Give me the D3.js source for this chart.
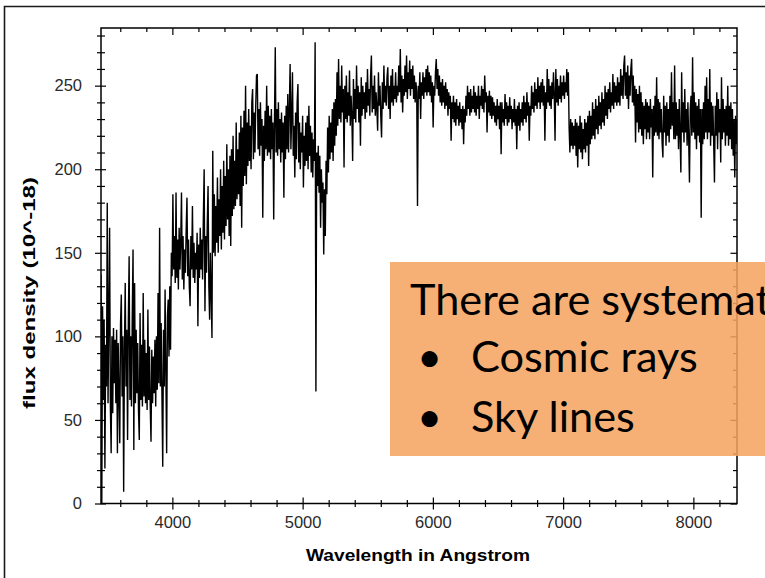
<!DOCTYPE html>
<html>
<head>
<meta charset="utf-8">
<script src="https://cdn.jsdelivr.net/npm/d3@7"></script>
<style>
  html, body { margin: 0; padding: 0; background: #fff; overflow: hidden; }
  svg { display: block; }
</style>
</head>
<body>
<svg id="chart" width="765" height="578"></svg>
<script>
// Spectrum sampling grid (Angstrom)
const waveStart = 3452;
const waveStep = 6;

// Flux density (10^-18), one value per grid step, 20 values (120 A) per row
const flux = [
  137,0,118,62,110,21,95,70,180,60,112,165,58,30,100,54,105,72,98,60,          // 3452
  104,30,96,66,36,108,125,64,100,7,92,132,70,104,38,110,148,62,100,58,         // 3572
  112,152,32,132,60,104,66,96,55,38,114,62,95,58,126,64,98,60,90,56,           // 3692
  116,62,94,58,37,92,60,88,66,98,58,100,68,126,72,165,70,108,64,22,            // 3812
  104,70,128,78,30,112,122,88,130,92,150,136,185,140,160,132,186,135,158,128,  // 3932
  165,140,156,186,134,160,128,152,138,164,183,136,158,130,118,160,140,178,135,156, // 4052
  132,150,140,162,106,155,135,165,140,158,134,172,200,115,160,138,168,190,130,110, // 4172
  150,125,99,211,150,185,148,178,156,195,150,182,160,200,152,190,162,205,158,196,  // 4292
  166,215,170,200,160,208,154,212,172,220,176,205,178,228,182,212,185,222,178,232, // 4412
  165,225,190,235,196,250,191,228,202,236,205,226,200,240,248,206,234,210,238,256, // 4532
  257,212,236,208,240,214,230,171,226,205,235,212,250,208,238,210,232,206,236,212, // 4652
  228,170,230,273,210,236,208,240,212,230,204,234,210,228,183,232,206,238,212,245, // 4772
  210,236,263,212,232,258,208,226,195,234,206,240,251,204,228,200,222,210,232,189, // 4892
  220,202,228,205,232,200,238,208,226,198,222,195,218,205,276,67,210,190,214,186,  // 5012 (cosmic ray)
  208,165,200,180,192,149,188,160,205,185,225,198,232,206,228,210,236,205,240,214, // 5132
  242,220,258,226,266,230,250,228,262,234,248,201,250,230,256,228,246,232,259,226, // 5252
  244,232,205,254,230,248,228,262,236,250,228,246,214,255,232,250,236,246,230,252, // 5372
  234,260,238,248,232,256,268,234,250,236,256,232,246,236,223,258,238,250,232,219, // 5492
  252,236,262,240,250,238,255,261,236,250,230,256,240,260,238,250,242,258,240,250, // 5612
  244,262,246,272,240,256,234,254,244,262,246,268,242,258,248,265,244,260,248,262, // 5732
  242,256,240,252,246,178,250,242,258,230,252,244,258,242,255,246,260,244,262,246, // 5852 (Na D sky line)
  258,244,256,240,252,225,250,244,258,266,248,260,244,256,240,252,238,254,240,250, // 5972
  236,252,238,248,232,246,236,244,217,240,230,244,228,240,226,242,230,238,226,240, // 6092
  228,236,224,238,215,236,228,244,232,250,236,246,232,248,234,244,236,250,234,246, // 6212
  232,244,236,250,230,244,238,250,236,248,234,256,240,246,222,244,234,247,232,244, // 6332
  230,243,232,240,228,238,226,242,230,238,224,240,209,240,228,236,226,245,230,240, // 6452
  226,238,228,243,230,238,224,236,228,242,226,236,212,238,226,240,223,236,228,240, // 6572
  226,244,230,240,228,246,232,240,217,238,232,250,236,246,234,252,238,248,236,255, // 6692
  240,250,236,252,240,254,238,250,217,246,236,260,240,254,238,250,236,252,242,258, // 6812
  244,217,260,240,254,238,250,242,256,240,252,244,256,242,252,246,260,244,258,225, // 6932
  210,230,214,228,212,226,214,230,208,228,201,226,212,232,210,228,206,224,212,230, // 7052
  210,228,214,232,202,235,215,232,218,240,220,236,218,242,224,238,221,244,226,240, // 7172
  224,246,228,242,226,250,232,246,230,248,236,252,234,246,238,257,236,252,240,250, // 7292
  238,255,240,252,238,260,244,256,242,262,268,244,258,242,262,236,256,244,260,266, // 7412
  240,256,238,250,216,248,228,245,222,250,224,246,220,240,215,238,224,242,218,240, // 7532
  222,238,218,242,225,236,195,238,220,244,222,255,220,242,218,240,222,236,216,207, // 7652
  244,222,238,214,240,220,236,216,244,224,258,226,240,218,262,218,240,220,236,212, // 7772
  242,220,198,258,222,240,216,248,222,236,214,240,218,192,236,244,220,267,222,246, // 7892
  218,240,212,238,220,242,216,236,171,236,215,240,218,250,222,255,218,242,222,260, // 8012
  214,240,220,238,216,192,238,220,246,212,242,222,236,204,255,218,242,222,236,214, // 8132
  238,220,250,214,238,218,240,212,236,208,230,195,232,215,230                      // 8252
];

// Axis ticks
const xMajorTicks = [4000, 5000, 6000, 7000, 8000];
const xMinorTicks = [3600, 3800, 4200, 4400, 4600, 4800, 5200, 5400, 5600, 5800,
                     6200, 6400, 6600, 6800, 7200, 7400, 7600, 7800, 8200];
const yMajorTicks = [0, 50, 100, 150, 200, 250];
const yMinorTicks = [10, 20, 30, 40, 60, 70, 80, 90, 110, 120, 130, 140, 160, 170,
                     180, 190, 210, 220, 230, 240, 260, 270, 280];

// Texts
const xTitle = "Wavelength in Angstrom";
const yTitle = "flux density (10^-18)";
const noteHeading = "There are systematics";
const noteBullets = ["Cosmic rays", "Sky lines"];

const svg = d3.select("#chart");
const plotLeft = 101, plotRight = 737, plotTop = 28, plotBottom = 503.5;

const x = d3.scaleLinear().domain([3452, 8335]).range([plotLeft, plotRight]);
const y = d3.scaleLinear().domain([0, 284.5]).range([plotBottom, plotTop]);

// Slide frame
svg.append("path")
  .attr("d", "M4.5,578 V6.5 H765")
  .attr("fill", "none").attr("stroke", "#1a1a1a").attr("stroke-width", 1.6);

// Plot area clip
svg.append("clipPath").attr("id", "plotClip")
  .append("rect").attr("x", plotLeft).attr("y", 0)
  .attr("width", plotRight - plotLeft).attr("height", plotBottom);

// Spectrum
const line = d3.line()
  .x((d, i) => x(waveStart + i * waveStep))
  .y(d => y(d));

svg.append("path")
  .datum(flux)
  .attr("clip-path", "url(#plotClip)")
  .attr("fill", "none")
  .attr("stroke", "#000")
  .attr("stroke-width", 1.4)
  .attr("stroke-linejoin", "bevel")
  .attr("d", line);

// Tick marks (no labels) drawn with d3 axes
function ticks(axisFn, scale, values, size, tx, ty) {
  svg.append("g")
    .attr("transform", `translate(${tx},${ty})`)
    .call(axisFn(scale).tickValues(values).tickSize(size).tickFormat(""))
    .call(g => g.select(".domain").remove())
    .call(g => g.selectAll("line").attr("stroke", "#000").attr("stroke-width", 1.2));
}
// bottom: ticks cross the axis line
ticks(d3.axisBottom, x, xMajorTicks, 6, 0, plotBottom);
ticks(d3.axisTop, x, xMajorTicks, 6, 0, plotBottom);
ticks(d3.axisBottom, x, xMinorTicks, 3.5, 0, plotBottom);
ticks(d3.axisTop, x, xMinorTicks, 3.5, 0, plotBottom);
// left: ticks cross the axis line
ticks(d3.axisLeft, y, yMajorTicks, 6, plotLeft, 0);
ticks(d3.axisRight, y, yMajorTicks, 5, plotLeft, 0);
ticks(d3.axisLeft, y, yMinorTicks, 4, plotLeft, 0);
ticks(d3.axisRight, y, yMinorTicks, 4, plotLeft, 0);
// top and right: inward ticks
ticks(d3.axisBottom, x, xMajorTicks, 7, 0, plotTop);
ticks(d3.axisBottom, x, xMinorTicks, 4, 0, plotTop);
ticks(d3.axisLeft, y, yMajorTicks, 6.5, plotRight, 0);
ticks(d3.axisLeft, y, yMinorTicks, 4, plotRight, 0);

// Plot frame
svg.append("rect")
  .attr("x", plotLeft).attr("y", plotTop)
  .attr("width", plotRight - plotLeft).attr("height", plotBottom - plotTop)
  .attr("fill", "none").attr("stroke", "#000").attr("stroke-width", 1.5);

// Tick labels
const labelFont = "'Liberation Sans', Arial, sans-serif";
svg.append("g")
  .attr("transform", `translate(0,${plotBottom})`)
  .call(d3.axisBottom(x).tickValues(xMajorTicks).tickSize(0).tickPadding(12.5).tickFormat(d3.format("d")))
  .call(g => g.select(".domain").remove())
  .call(g => g.selectAll("text").attr("font-family", labelFont).attr("font-size", 16.5).attr("fill", "#2a2a2a"));

svg.append("g")
  .attr("transform", `translate(${plotLeft},0)`)
  .call(d3.axisLeft(y).tickValues(yMajorTicks).tickSize(0).tickPadding(19).tickFormat(d3.format("d")))
  .call(g => g.select(".domain").remove())
  .call(g => g.selectAll("text").attr("font-family", labelFont).attr("font-size", 16.5).attr("fill", "#2a2a2a"));

// Axis titles
svg.append("text")
  .attr("x", 418).attr("y", 561)
  .attr("text-anchor", "middle")
  .attr("font-family", labelFont).attr("font-weight", "bold").attr("font-size", 17)
  .attr("textLength", 224).attr("lengthAdjust", "spacingAndGlyphs")
  .text(xTitle);

svg.append("text")
  .attr("transform", "translate(35,293) rotate(-90)")
  .attr("text-anchor", "middle")
  .attr("font-family", labelFont).attr("font-weight", "bold").attr("font-size", 17)
  .attr("textLength", 232).attr("lengthAdjust", "spacingAndGlyphs")
  .text(yTitle);

// Annotation box
const note = svg.append("g");
note.append("rect")
  .attr("x", 390).attr("y", 262).attr("width", 400).attr("height", 194)
  .attr("fill", "rgb(245,163,96)").attr("fill-opacity", 0.86);

const noteFont = "Lato, 'Open Sans', sans-serif";
const noteSize = 43.3;
note.append("text")
  .attr("x", 410).attr("y", 315)
  .attr("font-family", noteFont).attr("font-size", noteSize).attr("fill", "#000")
  .text(noteHeading);

noteBullets.forEach((t, i) => {
  const by = 372 + i * 59.5;
  note.append("text")
    .attr("x", 417).attr("y", by)
    .attr("font-family", noteFont).attr("font-size", noteSize).attr("fill", "#000")
    .text("\u2022");
  note.append("text")
    .attr("x", 471).attr("y", by)
    .attr("font-family", noteFont).attr("font-size", noteSize).attr("fill", "#000")
    .text(t);
});
</script>
</body>
</html>
